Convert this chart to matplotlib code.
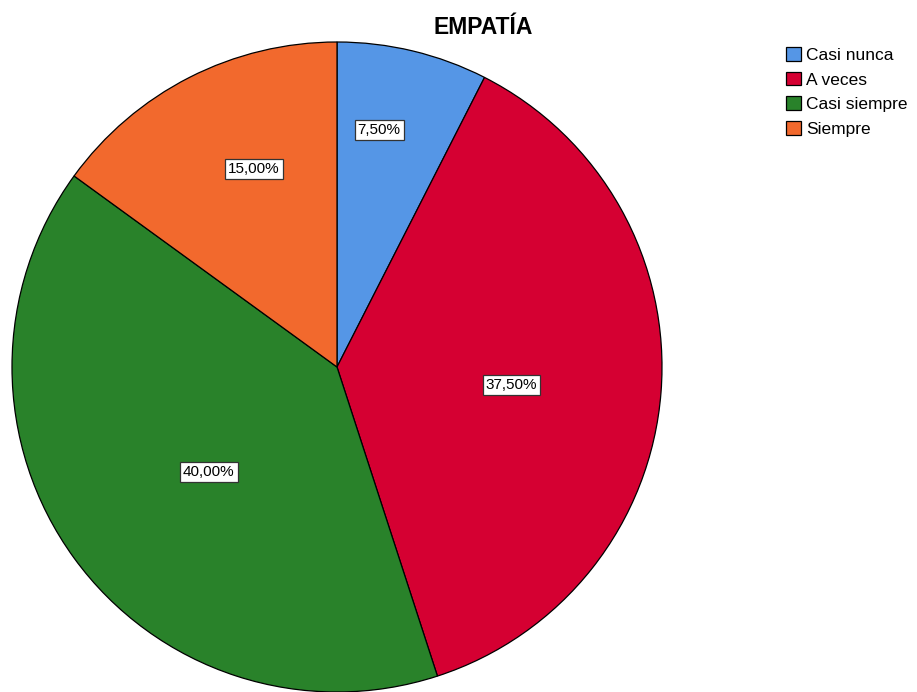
import numpy as np
import matplotlib.pyplot as plt
from matplotlib.patches import Patch

plt.rcParams['font.family'] = ['Liberation Sans', 'DejaVu Sans']

categorias = ['Casi nunca', 'A veces', 'Casi siempre', 'Siempre']
porcentajes = [7.5, 37.5, 40.0, 15.0]
colores = ['#5596e6', '#d50032', '#29822a', '#f2692d']
# posicion de cada etiqueta: fraccion del radio y giro respecto al centro del sector
dist_etiqueta = [0.74, 0.54, 0.51, 0.66]
giro_etiqueta = [3.4, -1.4, 3.4, -4.2]

fig = plt.figure(figsize=(9.17, 6.92), dpi=100)
ax = fig.add_axes([0, 0, 1, 1])

centro = (337, 325)
radio = 325
wedges, _ = ax.pie(porcentajes, colors=colores, startangle=90, counterclock=False,
                   center=centro, radius=radio, frame=True,
                   wedgeprops=dict(edgecolor='black', linewidth=0.9))
ax.set_xlim(0, 917)
ax.set_ylim(0, 692)
ax.set_aspect('equal')
ax.axis('off')

for w, p, d, g in zip(wedges, porcentajes, dist_etiqueta, giro_etiqueta):
    ang = np.deg2rad((w.theta1 + w.theta2) / 2 + g)
    x = centro[0] + d * radio * np.cos(ang)
    y = centro[1] + d * radio * np.sin(ang)
    txt = f'{p:.2f}%'.replace('.', ',')
    ax.text(x, y, txt, ha='center', va='center', fontsize=11,
            bbox=dict(boxstyle='square,pad=0.2', facecolor='white',
                      edgecolor='#333333', linewidth=0.9))

fig.text(483 / 917, 1 - 27 / 692, 'EMPATÍA', ha='center', va='center',
         fontsize=16.5, fontweight='bold')

handles = [Patch(facecolor=c, edgecolor='black', linewidth=0.9) for c in colores]
fig.legend(handles, categorias, loc='upper left', bbox_to_anchor=(786 / 917, 1 - 47 / 692),
           frameon=False, fontsize=12.5, handlelength=0.85, handleheight=0.85,
           handletextpad=0.3, labelspacing=0.5, borderpad=0, borderaxespad=0)

fig.savefig('out.png', dpi=100)
